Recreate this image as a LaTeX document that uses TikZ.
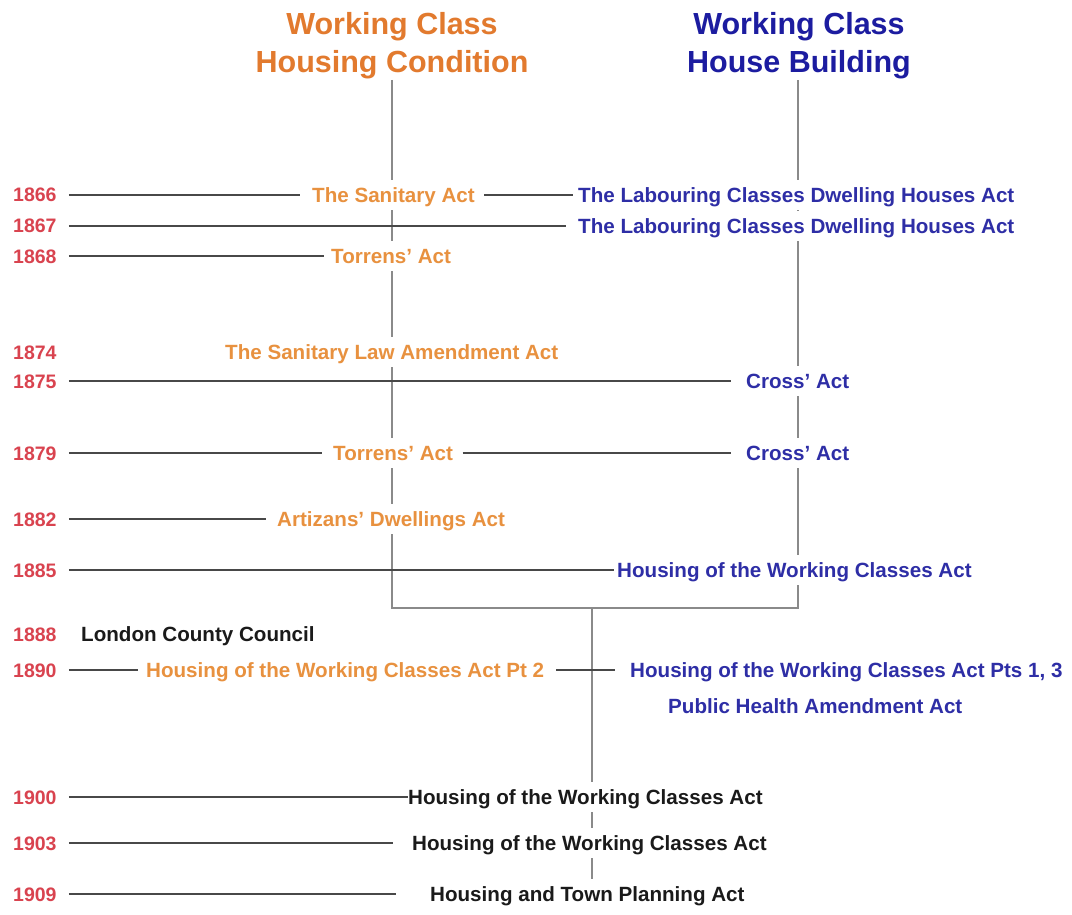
\documentclass[tikz,border=0pt]{standalone}
\usepackage{fontspec}
\setmainfont{Liberation Sans}
\definecolor{torange}{HTML}{E27A2E}
\definecolor{borange}{HTML}{E8913F}
\definecolor{tblue}{HTML}{1C1CA0}
\definecolor{bblue}{HTML}{2E2EA6}
\definecolor{yred}{HTML}{D9434F}
\definecolor{kblack}{HTML}{1A1A1A}
\definecolor{hgray}{HTML}{484848}
\definecolor{vgray}{HTML}{8A8A8A}
\begin{document}
\begin{tikzpicture}[x=1pt,y=-1pt,
  txt/.style={font=\bfseries\fontsize{20.6}{24}\selectfont, anchor=west,
    inner xsep=0pt, inner ysep=3pt, text height=19pt, text depth=4.1pt, fill=white},
  yr/.style={font=\bfseries\fontsize{19.5}{23}\selectfont, anchor=west,
    inner xsep=0pt, inner ysep=3pt, text height=17.9pt, text depth=3.9pt, text=yred},
  oact/.style={txt, text=borange},
  bact/.style={txt, text=bblue},
  kact/.style={txt, text=kblack},
  ttl/.style={font=\bfseries\fontsize{30.5}{36}\selectfont, anchor=base, inner sep=0pt},
  hl/.style={draw=hgray, line width=1.7pt},
  vl/.style={draw=vgray, line width=1.7pt}]
\useasboundingbox[fill=white] (0,0) rectangle (1072,915);

% titles
\node[ttl, text=torange] (tl1) at (392,35) {Working Class};
\node[ttl, text=torange] (tl2) at (392,73) {Housing Condition};
\node[ttl, text=tblue] (tr1) at (799,35) {Working Class};
\node[ttl, text=tblue] (tr2) at (799,73) {House Building};

% tree coordinates
\coordinate (lt) at (392,80);
\coordinate (lb) at (392,608);
\coordinate (rt) at (798,80);
\coordinate (rb) at (798,608);
\coordinate (ct) at (592,608);
\coordinate (cb) at (592,894);
\draw[vl] (lt) -- (lb) -- (rb) -- (rt);
\draw[vl] (ct) -- (cb);

% years
\node[yr] (y66) at (13,195) {1866};
\node[yr] (y67) at (13,226) {1867};
\node[yr] (y68) at (13,256) {1868};
\node[yr] (y74) at (13,352) {1874};
\node[yr] (y75) at (13,381) {1875};
\node[yr] (y79) at (13,453) {1879};
\node[yr] (y82) at (13,519) {1882};
\node[yr] (y85) at (13,570) {1885};
\node[yr] (y88) at (13,634) {1888};
\node[yr] (y90) at (13,670) {1890};
\node[yr] (y00) at (13,797) {1900};
\node[yr] (y03) at (13,843) {1903};
\node[yr] (y09) at (13,894) {1909};

% acts
\node[oact] (san66) at (312,195) {The Sanitary Act};
\node[bact] (lab66) at (578,195) {The Labouring Classes Dwelling Houses Act};
\node[bact] (lab67) at (578,226) {The Labouring Classes Dwelling Houses Act};
\node[oact] (tor68) at (331,256) {Torrens' Act};
\node[oact] (sla74) at (225,352) {The Sanitary Law Amendment Act};
\node[bact] (cro75) at (746,381) {Cross' Act};
\node[oact] (tor79) at (333,453) {Torrens' Act};
\node[bact] (cro79) at (746,453) {Cross' Act};
\node[oact] (art82) at (277,519) {Artizans' Dwellings Act};
\node[bact] (hwc85) at (617,570) {Housing of the Working Classes Act};
\node[kact] (lcc88) at (81,634) {London County Council};
\node[oact] (hwc90a) at (146,670) {Housing of the Working Classes Act Pt 2};
\node[bact] (hwc90b) at (630,670) {Housing of the Working Classes Act Pts 1, 3};
\node[bact] (pha90) at (668,706) {Public Health Amendment Act};
\node[kact] (hwc00) at (408,797) {Housing of the Working Classes Act};
\node[kact] (hwc03) at (412,843) {Housing of the Working Classes Act};
\node[kact] (htp09) at (430,894) {Housing and Town Planning Act};

% connectors
\draw[hl, shorten <=12pt, shorten >=12pt] (y66.east) -- (san66.west);
\draw[hl, shorten <=9.5pt, shorten >=5pt] (san66.east) -- (lab66.west);
\draw[hl, shorten <=12pt, shorten >=12pt] (y67.east) -- (lab67.west);
\draw[hl, shorten <=12pt, shorten >=7pt] (y68.east) -- (tor68.west);
\draw[hl, shorten <=12pt, shorten >=15pt] (y75.east) -- (cro75.west);
\draw[hl, shorten <=12pt, shorten >=11pt] (y79.east) -- (tor79.west);
\draw[hl, shorten <=9.5pt, shorten >=15pt] (tor79.east) -- (cro79.west);
\draw[hl, shorten <=12pt, shorten >=11pt] (y82.east) -- (art82.west);
\draw[hl, shorten <=12pt, shorten >=3pt] (y85.east) -- (hwc85.west);
\draw[hl, shorten <=12pt, shorten >=8pt] (y90.east) -- (hwc90a.west);
\draw[hl, shorten <=12pt, shorten >=15pt] (hwc90a.east) -- (hwc90b.west);
\draw[hl, shorten <=12pt, shorten >=0pt] (y00.east) -- (hwc00.west);
\draw[hl, shorten <=12pt, shorten >=19pt] (y03.east) -- (hwc03.west);
\draw[hl, shorten <=12pt, shorten >=34pt] (y09.east) -- (htp09.west);
\end{tikzpicture}
\end{document}
